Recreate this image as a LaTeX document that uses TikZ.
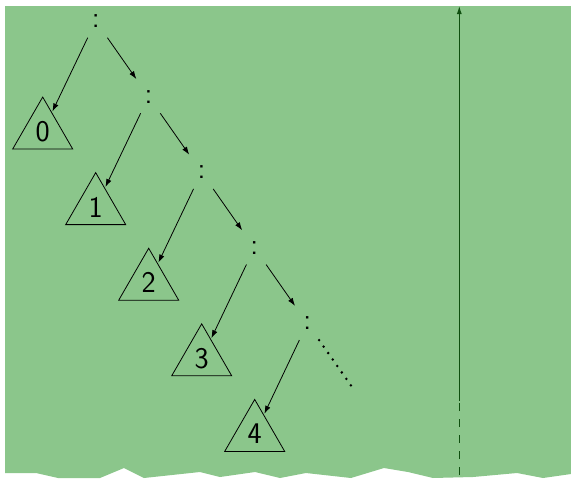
\documentclass[tikz,border=0pt]{standalone}
\usetikzlibrary{arrows.meta,shapes.geometric}
\definecolor{bggreen}{HTML}{8BC68B}
\definecolor{darkgreen}{HTML}{0F4F0F}
\begin{document}
\begin{tikzpicture}[x=1pt,y=-1pt,
  colon/.style={inner sep=0pt, minimum height=33pt, minimum width=30pt, font=\sffamily\fontsize{30}{32}\selectfont},
  tri/.style={draw, regular polygon, regular polygon sides=3, minimum size=69.3pt, inner sep=0pt, line width=0.8pt, font=\sffamily\fontsize{30}{32}\selectfont},
  arr/.style={-{Latex[length=8pt,width=5.5pt]}, line width=0.8pt, shorten >=1pt},
  dots/.style={line width=2.8pt, dash pattern=on 0pt off 7.9pt, line cap=round},
  axis/.style={darkgreen, line width=1pt},
  ]
\useasboundingbox (0,0) rectangle (571,479);
\fill[bggreen] (5,6) -- (571,6) -- (571,474) -- (543,478) -- (517,473) -- (473,477) -- (433,478) -- (408,472) -- (384,468) -- (351,478) -- (306,473) -- (280,478) -- (255,472) -- (220,477) -- (200,472) -- (144,478) -- (124,468) -- (100,478) -- (58,478) -- (36,473) -- (5,473) -- cycle;
\foreach \k in {0,...,4}{
  \node[colon] (c\k) at ({95.7+52.9*\k},{21+75.6*\k}) {:};
  \node[tri] (t\k) at ({42.7+53*\k},{131.7+75.6*\k}) {\raisebox{-3pt}{\k}};
  \draw[arr] (c\k) -- (t\k);
}
\foreach \a/\b in {0/1,1/2,2/3,3/4}{
  \draw[arr] (c\a) -- (c\b);
}
\coordinate (c5) at (360.6,399.1);
\draw[dots, shorten >=13pt] (c4) -- (c5);
\coordinate (vt) at (459.3,6);
\coordinate (vm) at (459.3,401);
\coordinate (vb) at (459.3,475);
\draw[axis, -{Latex[length=8pt,width=5pt]}] (vm) -- (vt);
\draw[axis, dash pattern=on 8pt off 8pt] (vb) -- (vm);
\end{tikzpicture}
\end{document}
